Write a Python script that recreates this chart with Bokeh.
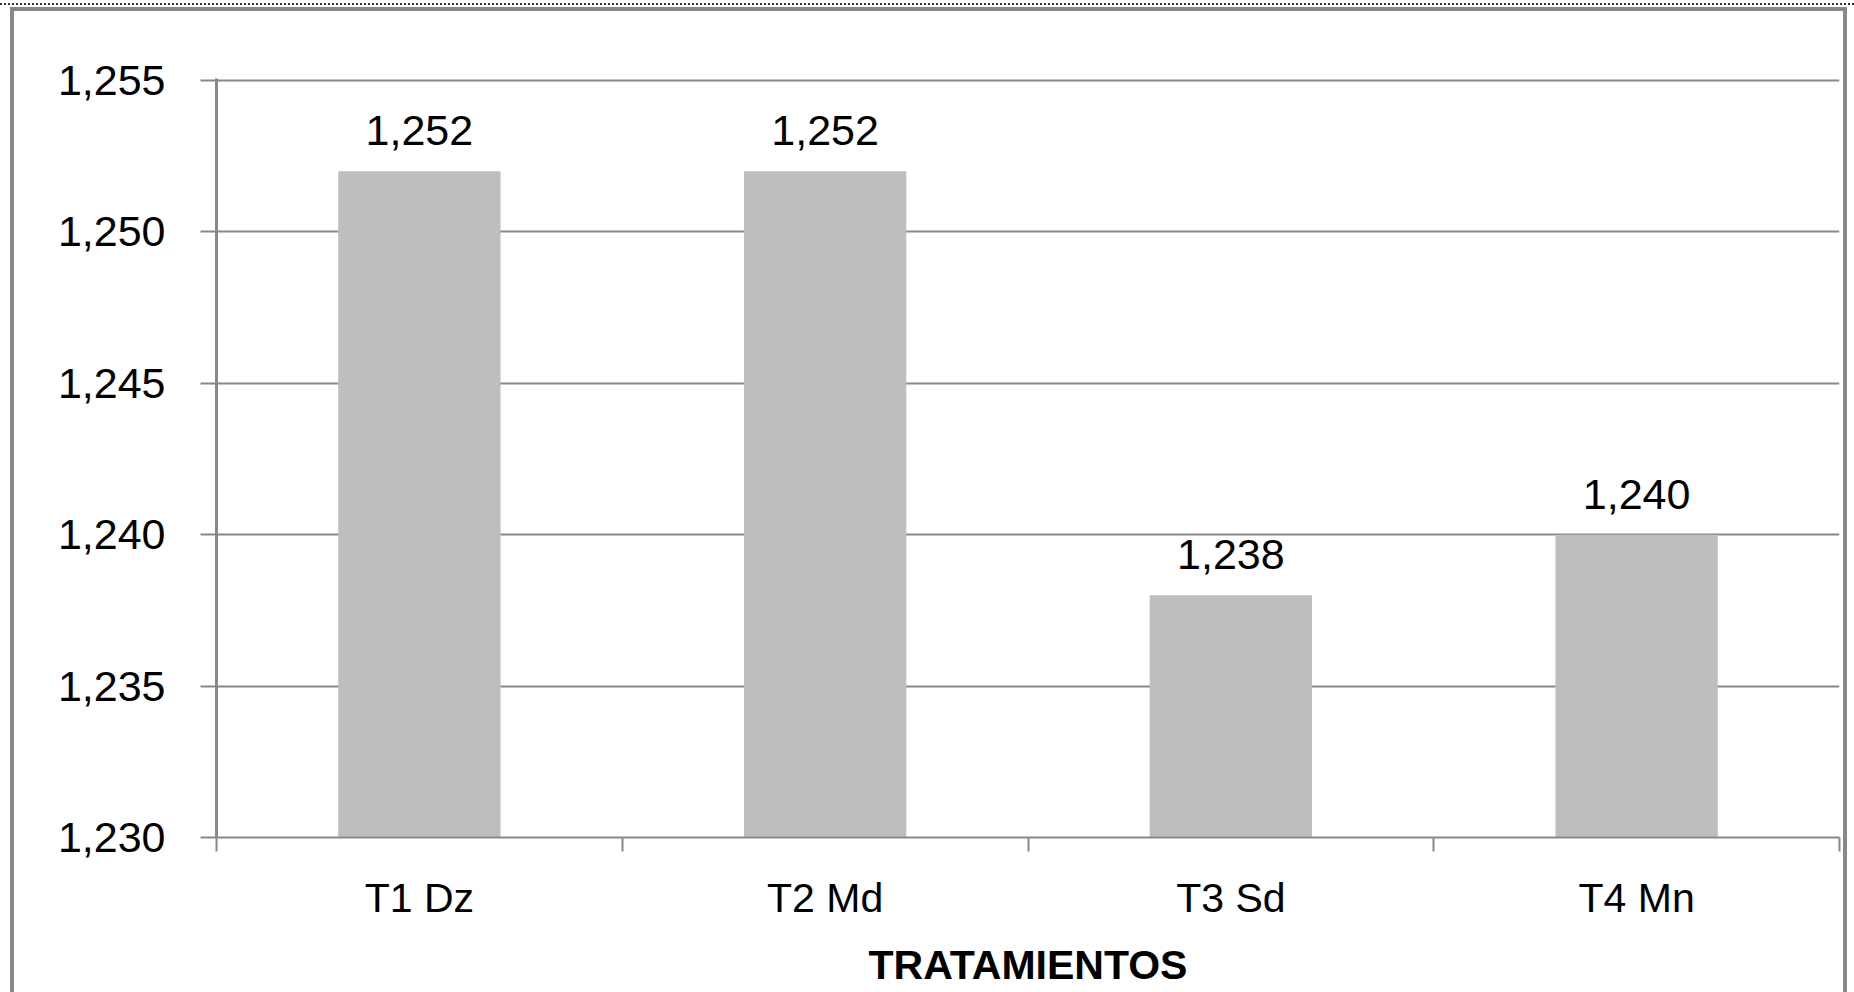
from bokeh.plotting import figure
from bokeh.models import (ColumnDataSource, FixedTicker, LabelSet, CustomJSTickFormatter,
                          Range1d, LinearAxis, Grid)
from bokeh.core.properties import value
from bokeh.embed import file_html
from bokeh.resources import INLINE

categories = ["T1 Dz", "T2 Md", "T3 Sd", "T4 Mn"]
values = [1.252, 1.252, 1.238, 1.240]
value_labels = ["1,252", "1,252", "1,238", "1,240"]
y_ticks = [1.230, 1.235, 1.240, 1.245, 1.250, 1.255]
x_title = "TRATAMIENTOS"

FONT = "Liberation Sans"
GRAY = "#888888"

xpos = [i + 0.5 for i in range(len(categories))]
src = ColumnDataSource(dict(x=xpos, top=values, lab=value_labels))

p = figure(width=1854, height=992, output_backend="svg", toolbar_location=None,
           x_range=Range1d(0, len(categories)), y_range=Range1d(y_ticks[0], y_ticks[-1] + 0.00006),
           x_axis_type=None, y_axis_type=None,
           min_border_left=216, min_border_right=15, min_border_top=78, min_border_bottom=155)
p.outline_line_color = None
p.background_fill_color = "white"
p.border_fill_color = None

# outer chart frame drawn as host-element backgrounds
p.styles = {
    "background-color": "white",
    "background-image": ("linear-gradient(#888888,#888888), linear-gradient(#888888,#888888), "
                         "linear-gradient(#888888,#888888), "
                         "repeating-linear-gradient(90deg, #333333 0px, #333333 2px, #ffffff 2px, #ffffff 4px)"),
    "background-size": "4px 985px, 1837px 4px, 4px 985px, 1854px 2px",
    "background-position": "10px 7px, 10px 7px, 1843px 7px, 0px 3px",
    "background-repeat": "no-repeat",
}

p.vbar(x="x", top="top", bottom=y_ticks[0], width=0.4, source=src,
       fill_color="#bebebe", line_color=None)

# y axis
yaxis = LinearAxis(ticker=FixedTicker(ticks=y_ticks),
                   formatter=CustomJSTickFormatter(code="return tick.toFixed(3).replace('.', ',');"))
yaxis.axis_line_color = GRAY
yaxis.axis_line_width = 3
yaxis.major_tick_line_color = GRAY
yaxis.major_tick_line_width = 2
yaxis.major_tick_out = 16
yaxis.major_tick_in = 0
yaxis.minor_tick_line_color = None
yaxis.major_label_standoff = 35
yaxis.major_label_text_font = FONT
yaxis.major_label_text_font_size = "43px"
yaxis.major_label_text_color = "black"
p.add_layout(yaxis, "left")

# x axis
xaxis = LinearAxis(ticker=FixedTicker(ticks=xpos, minor_ticks=list(range(len(categories) + 1))))
xaxis.major_label_overrides = {x: c for x, c in zip(xpos, categories)}
xaxis.axis_line_color = GRAY
xaxis.axis_line_width = 2
xaxis.major_tick_line_color = None
xaxis.major_tick_out = 0
xaxis.major_tick_in = 0
xaxis.minor_tick_line_color = GRAY
xaxis.minor_tick_line_width = 2
xaxis.minor_tick_out = 14
xaxis.minor_tick_in = 0
xaxis.major_label_standoff = 23
xaxis.major_label_text_font = FONT
xaxis.major_label_text_font_size = "41px"
xaxis.major_label_text_color = "black"
xaxis.axis_label = x_title
xaxis.axis_label_text_font = FONT
xaxis.axis_label_text_font_style = "bold"
xaxis.axis_label_text_font_size = "41px"
xaxis.axis_label_text_color = "black"
xaxis.axis_label_standoff = 18
p.add_layout(xaxis, "below")

grid = Grid(dimension=1, ticker=yaxis.ticker, grid_line_color=GRAY, grid_line_width=2)
p.add_layout(grid)

labels = LabelSet(x="x", y="top", text="lab", source=src, text_align="center",
                  text_baseline="bottom", y_offset=26, text_font=value(FONT),
                  text_font_size=value("43px"), text_color=value("black"))
p.add_layout(labels)

open("out.html", "w").write(file_html(p, INLINE))
